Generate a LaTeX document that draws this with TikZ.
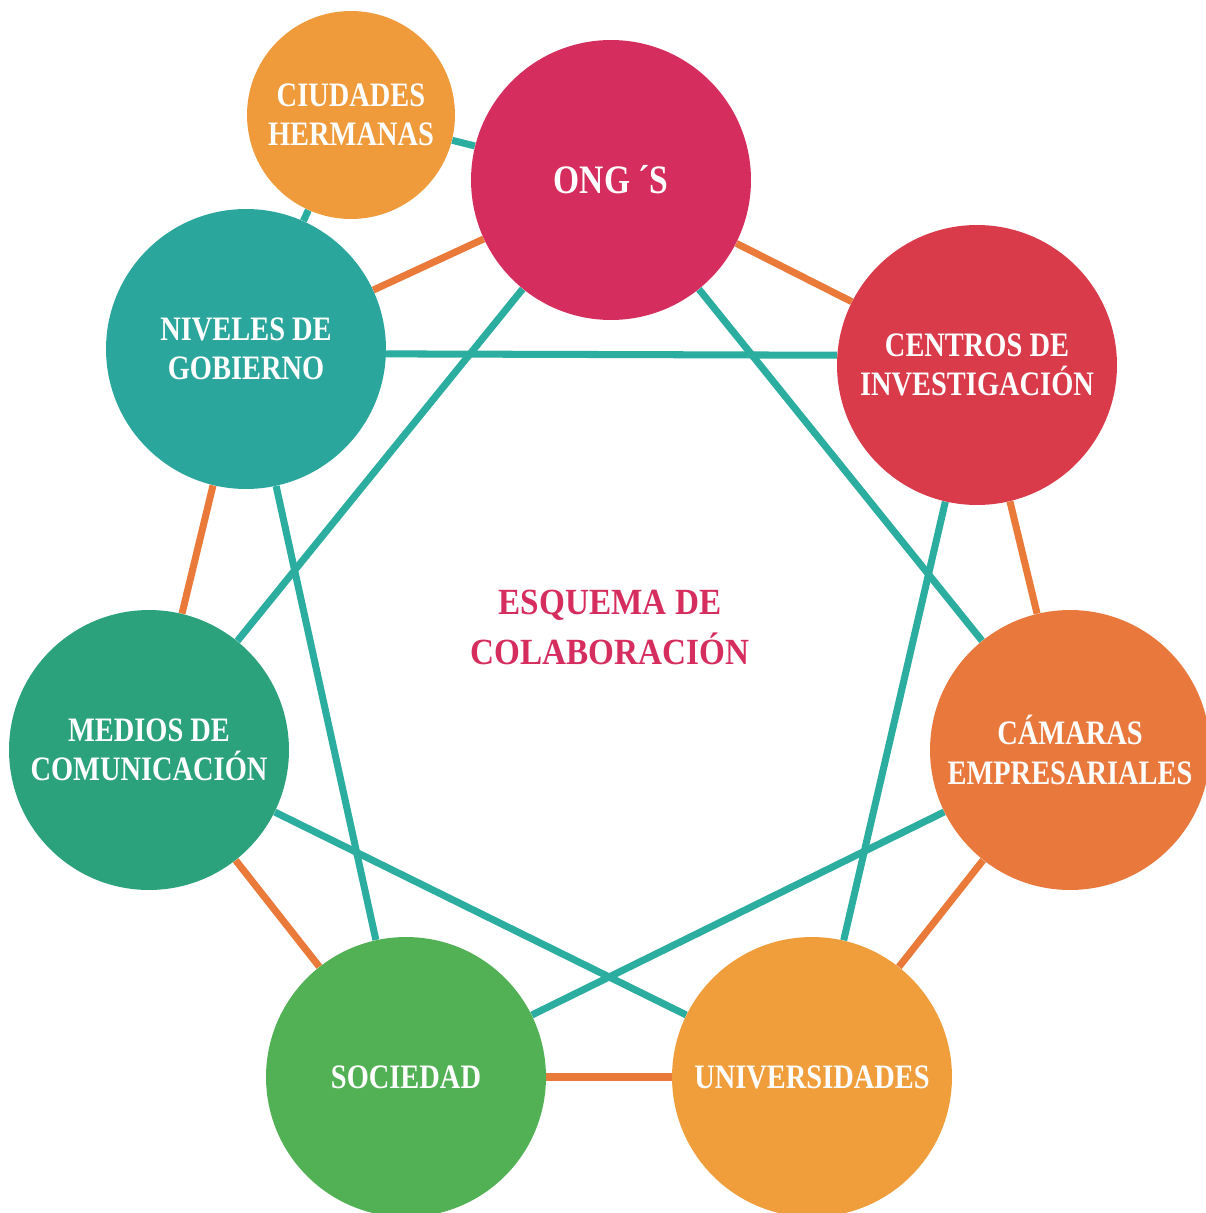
\documentclass[tikz,border=0pt]{standalone}
\usepackage{fontspec}
\setmainfont{Liberation Serif}
\newfontfamily\circfont[FakeStretch=0.83]{Liberation Serif}
\newfontfamily\titlefont[FakeStretch=0.9]{Liberation Serif}
\usetikzlibrary{backgrounds}

\definecolor{ongred}{HTML}{D62D5F}
\definecolor{ciudorange}{HTML}{EF9A3B}
\definecolor{nivteal}{HTML}{2BA69D}
\definecolor{centred}{HTML}{D93B4B}
\definecolor{camorange}{HTML}{E9783C}
\definecolor{univorange}{HTML}{F09D3C}
\definecolor{socgreen}{HTML}{53B155}
\definecolor{medgreen}{HTML}{2BA27B}
\definecolor{linkteal}{HTML}{2BADA0}
\definecolor{linkorange}{HTML}{E97A3A}

\tikzset{
  actor/.style={circle,minimum size=5.6cm,inner sep=0pt,text=white,align=center,
    font=\circfont\bfseries\fontsize{19.5}{22.5}\selectfont},
  ring/.style={draw=linkorange,line width=4pt},
  star/.style={draw=linkteal,line width=4pt}
}

\begin{document}
\begin{tikzpicture}[x=0.02cm,y=-0.02cm]
  \useasboundingbox (0,0) rectangle (1206,1213);

  % Circles
  \node[actor,fill=ongred,font=\circfont\bfseries\fontsize{23}{26}\selectfont] (ong) at (611,180) {ONG\hspace{0.2em}´S};
  \node[actor,fill=ciudorange,minimum size=4.16cm] (ciud) at (351,115) {CIUDADES\\HERMANAS};
  \node[actor,fill=nivteal] (niv) at (246,349) {NIVELES DE\\GOBIERNO};
  \node[actor,fill=centred] (cent) at (977,365) {CENTROS DE\\INVESTIGACIÓN};
  \node[actor,fill=camorange] (cam) at (1070,750) {CÁMARAS\\EMPRESARIALES};
  \node[actor,fill=univorange] (univ) at (812,1077) {UNIVERSIDADES};
  \node[actor,fill=socgreen] (soc) at (406,1077) {SOCIEDAD};
  \node[actor,fill=medgreen] (med) at (149,750) {MEDIOS DE\\COMUNICACIÓN};

  % Title in the middle
  \node[text=ongred,align=center,font=\titlefont\bfseries\fontsize{21}{28.5}\selectfont] (esquema) at (610,627) {ESQUEMA DE\\COLABORACIÓN};

  \begin{scope}[on background layer]
    \fill[white] (0,0) rectangle (1206,1213);
    % Outer ring
    \foreach \a/\b in {ong/cent,cent/cam,cam/univ,univ/soc,soc/med,med/niv,niv/ong}
      \draw[ring] (\a) -- (\b);
    % Inner star
    \draw[star] (niv.-2.9) -- (cent.176.7);
    \foreach \a/\b in {ciud/ong,ciud/niv,ong/med,ong/cam,cent/univ,cam/soc,med/univ,niv/soc}
      \draw[star] (\a) -- (\b);
  \end{scope}
\end{tikzpicture}
\end{document}
